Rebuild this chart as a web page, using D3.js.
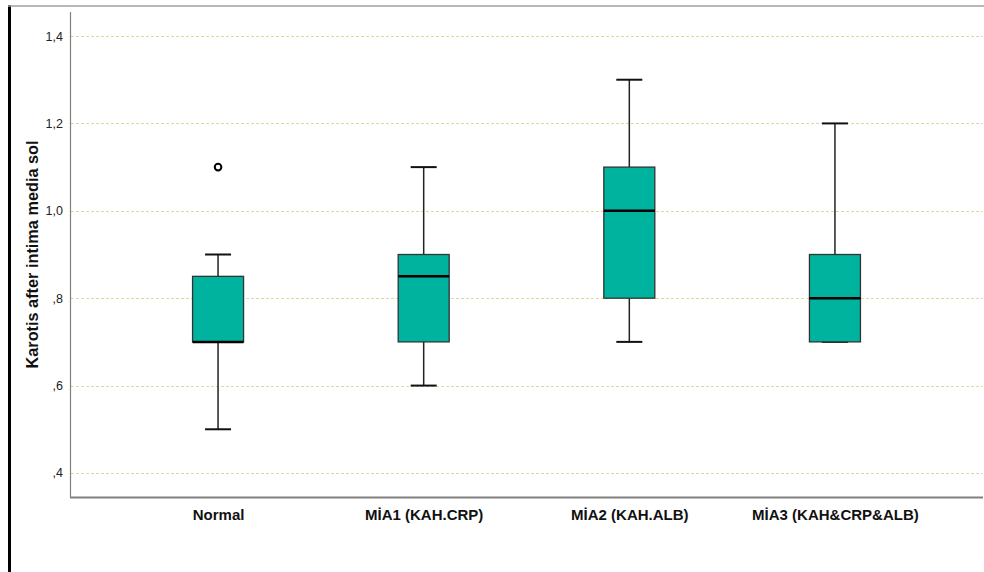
<!DOCTYPE html>
<html>
<head>
<meta charset="utf-8">
<script src="https://cdn.jsdelivr.net/npm/d3@7"></script>
<style>
  html, body { margin: 0; padding: 0; background: #fff; }
  svg { display: block; }
</style>
</head>
<body>
<svg id="chart" width="984" height="572"></svg>
<script>
// Groups and their five-number summaries
const categories = ["Normal", "MİA1 (KAH.CRP)", "MİA2 (KAH.ALB)", "MİA3 (KAH&CRP&ALB)"];
const whiskerLow  = [0.5, 0.6, 0.7, 0.7];
const q1          = [0.7, 0.7, 0.8, 0.7];
const median      = [0.7, 0.85, 1.0, 0.8];
const q3          = [0.85, 0.9, 1.1, 0.9];
const whiskerHigh = [0.9, 1.1, 1.3, 1.2];
const outliers    = [[1.1], [], [], []];
const yTicks = [0.4, 0.6, 0.8, 1.0, 1.2, 1.4];
const yTitle = "Karotis after intima media sol";

const svg = d3.select("#chart");
const W = 984, H = 572;
const plot = { left: 70, right: 983, top: 12, bottom: 497 };

// Outer frame: thick left rule and thin grey top rule
svg.append("line").attr("x1", 9.5).attr("x2", 9.5).attr("y1", 5).attr("y2", H)
  .attr("stroke", "#000").attr("stroke-width", 3);
svg.append("line").attr("x1", 8).attr("x2", W).attr("y1", 6).attr("y2", 6)
  .attr("stroke", "#a0a0a0").attr("stroke-width", 1.5);

const y = d3.scaleLinear().domain([0.345, 1.455]).range([plot.bottom, plot.top]);
const x = d3.scalePoint().domain(categories).range([plot.left, plot.right]).padding(0.72);

const fmt = v => d3.format(".1f")(v).replace(/^0/, "").replace(".", ",");

// Dashed gridlines
svg.append("g").selectAll("line").data(yTicks).join("line")
  .attr("x1", plot.left + 1).attr("x2", plot.right)
  .attr("y1", d => Math.round(y(d)) + 0.5).attr("y2", d => Math.round(y(d)) + 0.5)
  .attr("stroke", "#dcd8a0").attr("stroke-width", 1.2).attr("stroke-dasharray", "3,2");

// Y axis
const yAxis = svg.append("g").attr("transform", `translate(${plot.left},0)`)
  .call(d3.axisLeft(y).tickValues(yTicks).tickFormat(fmt).tickSize(0).tickPadding(7));
yAxis.select(".domain").remove();
yAxis.selectAll("text").attr("font-family", "Arial, 'Liberation Sans', sans-serif")
  .attr("font-size", 12.5).attr("fill", "#222");
svg.append("line").attr("x1", plot.left + 0.5).attr("x2", plot.left + 0.5)
  .attr("y1", plot.top).attr("y2", plot.bottom).attr("stroke", "#808080").attr("stroke-width", 1.2);

// X axis
const xAxis = svg.append("g").attr("transform", `translate(0,${plot.bottom})`)
  .call(d3.axisBottom(x).tickSize(0).tickPadding(12));
xAxis.select(".domain").remove();
xAxis.selectAll("text").attr("font-family", "Arial, 'Liberation Sans', sans-serif")
  .attr("font-size", 15).attr("font-weight", "bold").attr("fill", "#111");
svg.append("line").attr("x1", plot.left).attr("x2", plot.right)
  .attr("y1", plot.bottom + 0.5).attr("y2", plot.bottom + 0.5).attr("stroke", "#808080").attr("stroke-width", 2);

// Y title
svg.append("text")
  .attr("transform", `translate(38,${(plot.top + plot.bottom) / 2}) rotate(-90)`)
  .attr("text-anchor", "middle")
  .attr("font-family", "Arial, 'Liberation Sans', sans-serif")
  .attr("font-size", 16.3).attr("font-weight", "bold").attr("fill", "#111")
  .text(yTitle);

// Boxes
const boxW = 51, capW = 26;
const data = categories.map((c, i) => ({
  c, lo: whiskerLow[i], q1: q1[i], med: median[i], q3: q3[i], hi: whiskerHigh[i], out: outliers[i]
}));
const g = svg.append("g").selectAll("g").data(data).join("g")
  .attr("transform", d => `translate(${x(d.c)},0)`);

// whisker stems
g.append("line").attr("x1", 0).attr("x2", 0).attr("y1", d => y(d.hi)).attr("y2", d => y(d.q3))
  .attr("stroke", "#222").attr("stroke-width", 1.5);
g.append("line").attr("x1", 0).attr("x2", 0).attr("y1", d => y(d.q1)).attr("y2", d => y(d.lo))
  .attr("stroke", "#222").attr("stroke-width", 1.5);
// caps
g.append("line").attr("x1", -capW / 2).attr("x2", capW / 2).attr("y1", d => y(d.hi)).attr("y2", d => y(d.hi))
  .attr("stroke", "#111").attr("stroke-width", 2);
g.append("line").attr("x1", -capW / 2).attr("x2", capW / 2).attr("y1", d => y(d.lo)).attr("y2", d => y(d.lo))
  .attr("stroke", "#111").attr("stroke-width", 2);
// box
g.append("rect").attr("x", -boxW / 2).attr("width", boxW)
  .attr("y", d => y(d.q3)).attr("height", d => y(d.q1) - y(d.q3))
  .attr("fill", "#00b39f").attr("stroke", "#333").attr("stroke-width", 1.3);
// median
g.append("line").attr("x1", -boxW / 2).attr("x2", boxW / 2).attr("y1", d => y(d.med)).attr("y2", d => y(d.med))
  .attr("stroke", "#000").attr("stroke-width", 2.5);
// outliers
g.selectAll("circle").data(d => d.out).join("circle")
  .attr("cx", 0).attr("cy", v => y(v)).attr("r", 3.3)
  .attr("fill", "#fff").attr("stroke", "#000").attr("stroke-width", 2);
</script>
</body>
</html>
